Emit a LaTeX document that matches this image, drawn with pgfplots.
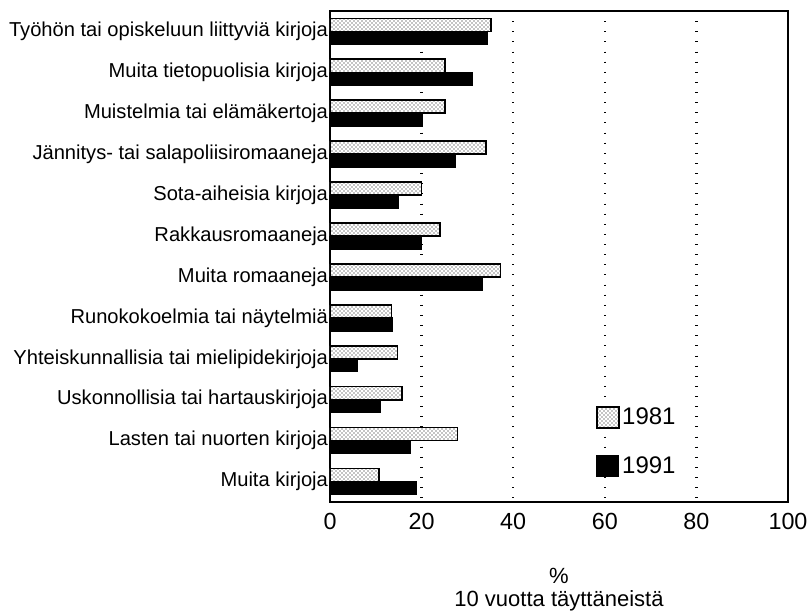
\documentclass[border=0pt]{standalone}
\usepackage{pgfplots}
\pgfplotsset{compat=1.18}
\usepackage{fontspec}
\setmainfont{Liberation Sans}
\usetikzlibrary{patterns}
\begin{document}
\begin{tikzpicture}
\path[use as bounding box] (-247.5pt,-81.75pt) rectangle (359.25pt,376.5pt);
\begin{axis}[
  at={(0,0)}, anchor=south west,
  scale only axis,
  width=343.5pt, height=368.25pt,
  xbar, bar width=0.32,
  xmin=0, xmax=100,
  ymin=-0.5, ymax=11.5,
  y dir=reverse,
  xtick={0,20,40,60,80,100},
  ytick={0,...,11},
  yticklabels={Työhön tai opiskeluun liittyviä kirjoja,Muita tietopuolisia kirjoja,Muistelmia tai elämäkertoja,Jännitys- tai salapoliisiromaaneja,Sota-aiheisia kirjoja,Rakkausromaaneja,Muita romaaneja,Runokokoelmia tai näytelmiä,Yhteiskunnallisia tai mielipidekirjoja,Uskonnollisia tai hartauskirjoja,Lasten tai nuorten kirjoja,Muita kirjoja},
  major tick length=0pt,
  /pgf/number format/assume math mode=true,
  xticklabel style={font=\fontsize{17.5pt}{19pt}\selectfont, yshift=-5pt},
  yticklabel style={font=\fontsize{15.1pt}{17pt}\selectfont, xshift=2pt},
  xmajorgrids,
  grid style={black, line width=1.8pt, dash pattern=on 0.6pt off 7pt},
  axis line style={line width=1.3pt},
  xlabel={\begin{tabular}{c}\%\\[0pt]10 vuotta täyttäneistä\end{tabular}},
  xlabel style={font=\fontsize{16.5pt}{17pt}\selectfont, yshift=-21.5pt},
  legend style={draw=none, fill=none, at={(0.58,0.197)}, anchor=north west,
    font=\fontsize{18pt}{19pt}\selectfont, row sep=18pt, inner sep=0pt},
  legend cell align=left,
  legend image code/.code={\draw[#1] (0pt,-8pt) rectangle (16.5pt,8pt);},
]
\addplot[bar shift=-0.16, draw=black, line width=1.2pt, fill=white, postaction={pattern=crosshatch dots}] coordinates {
(35.2,0) (25.1,1) (25.1,2) (34.1,3) (20.0,4) (24.0,5) (37.2,6) (13.4,7) (14.7,8) (15.7,9) (27.8,10) (10.7,11)};
\addplot[bar shift=0.16, draw=black, fill=black, line width=0.6pt] coordinates {
(34.4,0) (31.2,1) (20.1,2) (27.3,3) (15.0,4) (20.0,5) (33.2,6) (13.6,7) (5.9,8) (10.9,9) (17.6,10) (18.9,11)};
\legend{1981,1991}
\end{axis}
\end{tikzpicture}
\end{document}
